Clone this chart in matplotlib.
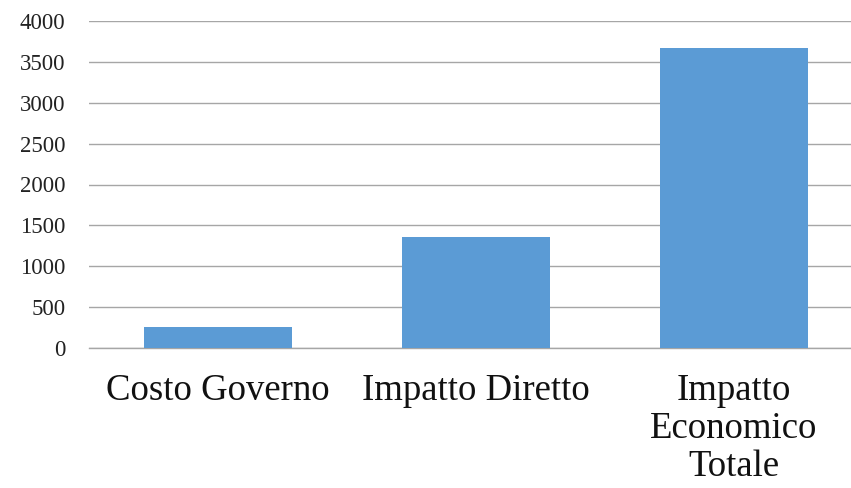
import matplotlib
matplotlib.use("Agg")
import matplotlib.pyplot as plt

categories = ["Costo Governo", "Impatto Diretto", "Impatto\nEconomico\nTotale"]
values = [258, 1358, 3670]
yticks = [0, 500, 1000, 1500, 2000, 2500, 3000, 3500, 4000]

plt.rcParams['font.family'] = ['Liberation Serif', 'DejaVu Serif']

fig = plt.figure(figsize=(8.51, 4.88), dpi=100)
ax = fig.add_axes([89/851, 1-348/488, 774/851, 327/488])

x = range(len(categories))
ax.bar(x, values, width=0.57, color="#5B9BD5", zorder=3)
ax.set_xlim(-0.5, 2.5)
ax.set_ylim(0, 4000)
ax.set_yticks(yticks)
ax.set_yticklabels([str(t) for t in yticks], fontsize=16.5, color="#222222")
ax.set_xticks(list(x))
ax.set_xticklabels(categories, fontsize=26.5, color="#111111", linespacing=1.15)
ax.tick_params(axis='y', length=0, pad=17)
ax.tick_params(axis='x', length=0, pad=18)
ax.grid(axis='y', color="#a6a6a6", linewidth=1.0, zorder=0)
for s in ["top", "right", "left"]:
    ax.spines[s].set_visible(False)
ax.spines["bottom"].set_color("#a6a6a6")
ax.spines["bottom"].set_linewidth(1.0)

fig.savefig("out.png", dpi=100)
